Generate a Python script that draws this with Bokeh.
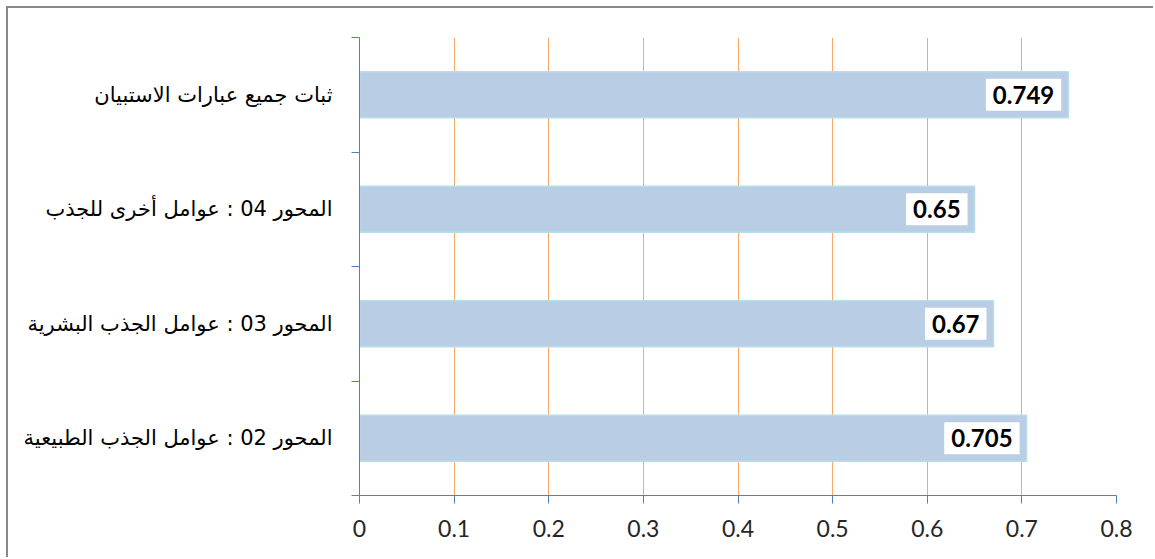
from bokeh.plotting import figure
from bokeh.models import Range1d, FixedTicker, ColumnDataSource
from bokeh.core.properties import value
from bokeh.embed import file_html
from bokeh.resources import INLINE

# Reliability coefficients per questionnaire section (bottom to top)
categories = [
    "المحور 02 : عوامل الجذب الطبيعية",
    "المحور 03 : عوامل الجذب البشرية",
    "المحور 04 : عوامل أخرى للجذب",
    "ثبات جميع عبارات الاستبيان",
]
values = [0.705, 0.67, 0.65, 0.749]
value_labels = ["0.705", "0.67", "0.65", "0.749"]

x_ticks = [0, 0.1, 0.2, 0.3, 0.4, 0.5, 0.6, 0.7, 0.8]
x_tick_labels = ["0", "0.1", "0.2", "0.3", "0.4", "0.5", "0.6", "0.7", "0.8"]

AXIS_BLUE = "#4F81BD"
GRID_ORANGE = "#F9A867"

n = len(categories)
y_centers = [i + 0.5 for i in range(n)]
y_bounds = [float(i) for i in range(n + 1)]

src = ColumnDataSource(dict(y=y_centers, val=values, lab=value_labels))

p = figure(
    width=1147, height=551,
    x_range=Range1d(0, 0.8), y_range=Range1d(0, n),
    output_backend="svg", toolbar_location=None,
    min_border_left=351, min_border_right=39,
    min_border_top=29, min_border_bottom=64,
    background_fill_color="white", border_fill_color="white",
)
p.outline_line_color = None
p.styles = {
    "margin-left": "6px", "margin-top": "6px",
    "border-left": "2px solid #8A8A8A", "border-top": "2px solid #8A8A8A",
}

# value gridlines
p.ygrid.visible = False
p.xgrid.ticker = FixedTicker(ticks=x_ticks[1:])
p.xgrid.grid_line_color = GRID_ORANGE
p.xgrid.grid_line_width = 1

# x axis
p.xaxis.ticker = FixedTicker(ticks=x_ticks)
p.xaxis.major_label_overrides = dict(zip(x_ticks, x_tick_labels))
p.xaxis.axis_line_color = AXIS_BLUE
p.xaxis.major_tick_line_color = AXIS_BLUE
p.xaxis.major_tick_out = 8
p.xaxis.major_tick_in = 0
p.xaxis.minor_tick_line_color = None
p.xaxis.major_label_standoff = 16
p.xaxis.major_label_text_font = "Lato"
p.xaxis.major_label_text_font_size = "23px"
p.xaxis.major_label_text_color = "#262626"

# category axis: labels at band centres, ticks at band boundaries
p.yaxis.ticker = FixedTicker(ticks=y_centers, minor_ticks=y_bounds)
p.yaxis.major_label_overrides = dict(zip(y_centers, categories))
p.yaxis.axis_line_color = AXIS_BLUE
p.yaxis.major_tick_line_color = None
p.yaxis.major_tick_out = 0
p.yaxis.major_tick_in = 0
p.yaxis.minor_tick_line_color = AXIS_BLUE
p.yaxis.minor_tick_out = 8
p.yaxis.minor_tick_in = 0
p.yaxis.major_label_standoff = 19
p.yaxis.major_label_text_font = "DejaVu Sans"
p.yaxis.major_label_text_font_size = "21px"
p.yaxis.major_label_text_color = "black"

p.hbar(y="y", left=0, right="val", height=0.4, source=src,
       fill_color="#B9CDE5", line_color="#B7DEE8", line_width=1.5)

p.text(x="val", y="y", text="lab", source=src,
       x_offset=-7, text_align="right", text_baseline="middle",
       text_font=value("Lato"), text_font_style="bold",
       text_font_size="24px", text_color="black",
       padding=7, background_fill_color="white")

open("out.html", "w").write(file_html(p, INLINE))
